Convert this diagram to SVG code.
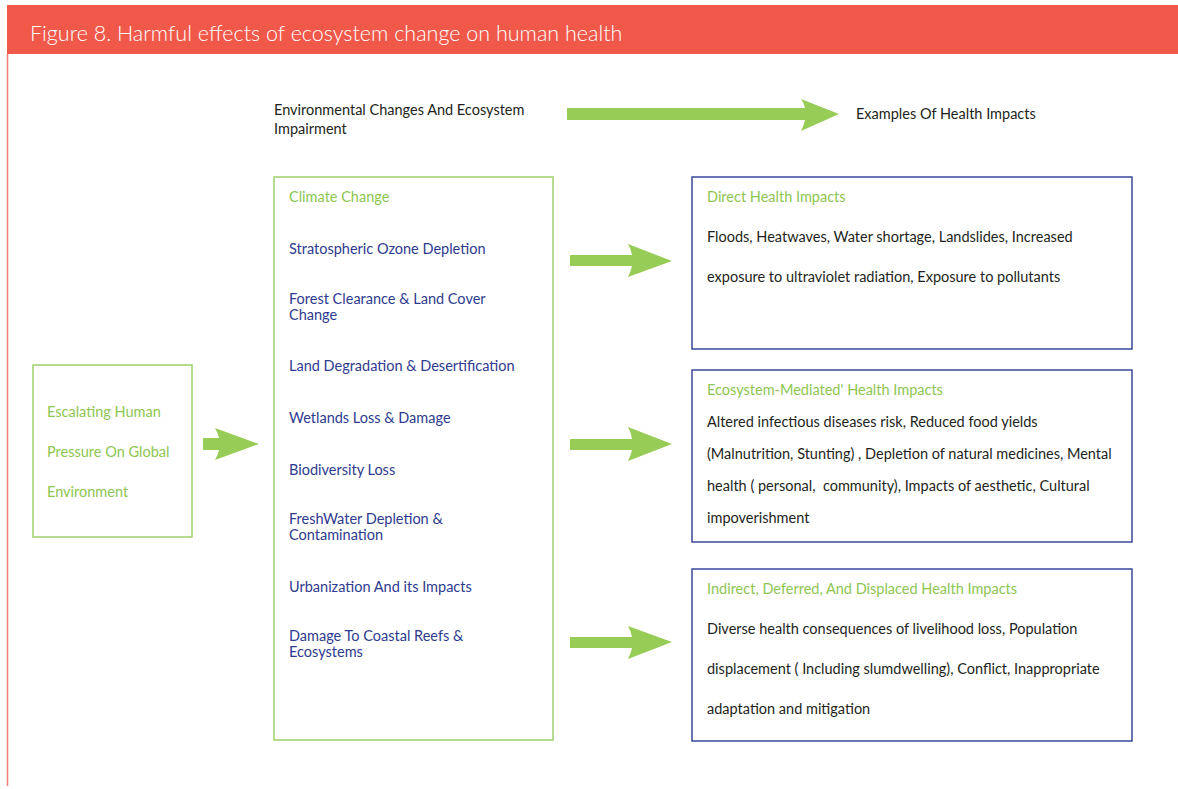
<svg xmlns="http://www.w3.org/2000/svg" width="1178" height="789" viewBox="0 0 1178 789">
<style>
text{font-family:Lato,"Open Sans","DejaVu Sans",sans-serif;font-size:14.5px}
.title{fill:#ffffff;font-size:21.5px;font-weight:300}
.hdr{fill:#231f20}
.g{fill:#8dc652}
.b{fill:#2e3b8f}
.k{fill:#231f20}
.gbox{fill:#ffffff;stroke:#9fd16a;stroke-width:1.5}
.bbox{fill:#ffffff;stroke:#3a4a9c;stroke-width:1.5}
.arr{fill:#97cc57}
</style>
<rect x="0" y="0" width="1178" height="789" fill="#ffffff"/>
<g id="header">
<rect x="7" y="5" width="1171" height="49" fill="#f0584a"/>
<line x1="7.5" y1="54" x2="7.5" y2="786" stroke="#f28074" stroke-width="1.5"/>
<text class="title" x="30" y="41">Figure 8. Harmful effects of ecosystem change on human health</text>
</g>
<g id="col-headers">
<text class="hdr" x="274" y="115">Environmental Changes And Ecosystem</text>
<text class="hdr" x="274" y="134">Impairment</text>
<text class="hdr" x="856" y="119">Examples Of Health Impacts</text>
</g>
<g id="pressure">
<rect class="gbox" x="33" y="365" width="159" height="172"/>
<text class="g" x="47" y="417">Escalating Human</text>
<text class="g" x="47" y="457">Pressure On Global</text>
<text class="g" x="47" y="497">Environment</text>
</g>
<g id="changes">
<rect class="gbox" x="274" y="177" width="279" height="563"/>
<text class="g" x="289" y="202">Climate Change</text>
<text class="b" x="289" y="254">Stratospheric Ozone Depletion</text>
<text class="b" x="289" y="304">Forest Clearance &amp; Land Cover</text>
<text class="b" x="289" y="320">Change</text>
<text class="b" x="289" y="371">Land Degradation &amp; Desertification</text>
<text class="b" x="289" y="423">Wetlands Loss &amp; Damage</text>
<text class="b" x="289" y="475">Biodiversity Loss</text>
<text class="b" x="289" y="524">FreshWater Depletion &amp;</text>
<text class="b" x="289" y="540">Contamination</text>
<text class="b" x="289" y="592">Urbanization And its Impacts</text>
<text class="b" x="289" y="641">Damage To Coastal Reefs &amp;</text>
<text class="b" x="289" y="657">Ecosystems</text>
</g>
<g id="direct">
<rect class="bbox" x="692" y="177" width="440" height="172"/>
<text class="g" x="707" y="202">Direct Health Impacts</text>
<text class="k" x="707" y="242">Floods, Heatwaves, Water shortage, Landslides, Increased</text>
<text class="k" x="707" y="282">exposure to ultraviolet radiation, Exposure to pollutants</text>
</g>
<g id="mediated">
<rect class="bbox" x="692" y="370" width="440" height="172"/>
<text class="g" x="707" y="395">Ecosystem-Mediated' Health Impacts</text>
<text class="k" x="707" y="427">Altered infectious diseases risk, Reduced food yields</text>
<text class="k" x="707" y="459">(Malnutrition, Stunting) , Depletion of natural medicines, Mental</text>
<text class="k" x="707" y="491" xml:space="preserve">health ( personal,  community), Impacts of aesthetic, Cultural</text>
<text class="k" x="707" y="523">impoverishment</text>
</g>
<g id="indirect">
<rect class="bbox" x="692" y="569" width="440" height="172"/>
<text class="g" x="707" y="594">Indirect, Deferred, And Displaced Health Impacts</text>
<text class="k" x="707" y="634">Diverse health consequences of livelihood loss, Population</text>
<text class="k" x="707" y="674">displacement ( Including slumdwelling), Conflict, Inappropriate</text>
<text class="k" x="707" y="714">adaptation and mitigation</text>
</g>
<g id="connectors">
<path class="arr" d="M567,108 L805,108 Q804,103 801,99 L839,114 L801,131 Q804,125 805,120 L567,120 Z"/>
<path class="arr" d="M203,438 L219,438 Q218,433 215,428 L259,444 L215,460 Q218,455 219,450 L203,450 Z"/>
<path class="arr" d="M570,255 L632,255 Q631,249 628,244 L672,261 L628,277 Q631,271 632,266 L570,266 Z"/>
<path class="arr" d="M570,439 L632,439 Q631,432 628,427 L672,444 L628,461 Q631,455 632,450 L570,450 Z"/>
<path class="arr" d="M570,637 L632,637 Q631,631 628,626 L672,642 L628,659 Q631,653 632,648 L570,648 Z"/>
</g>
</svg>
